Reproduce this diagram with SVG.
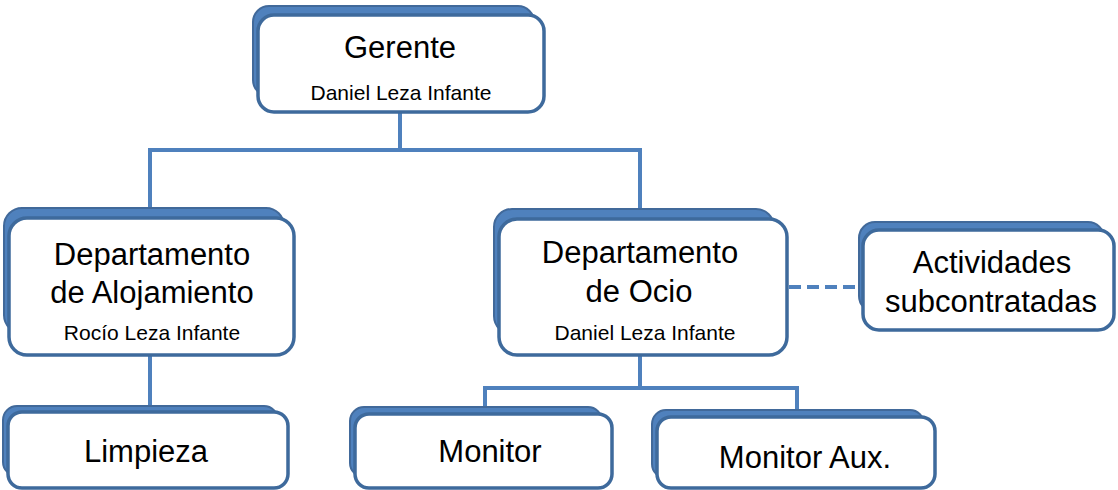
<svg xmlns="http://www.w3.org/2000/svg" width="1118" height="490" viewBox="0 0 1118 490">
<style>
.sh{fill:#4F81BD;stroke:#41699A;stroke-width:2}
.fr{fill:#FFFFFF;stroke:#3E6A9C;stroke-width:3.5}
.ln{fill:none;stroke:#4F81BD;stroke-width:4}
.dl{fill:none;stroke:#4F81BD;stroke-width:4;stroke-dasharray:12 6}
text{font-family:"Liberation Sans",Arial,sans-serif;fill:#000;text-anchor:middle}
.t{font-size:31px}
.s{font-size:21px}
</style>
<rect width="1118" height="490" fill="#FFFFFF"/>
<g id="connectors">
<path class="ln" d="M400,112 V150 M150,150 H640 M150,148 V210 M640,148 V211"/>
<path class="ln" d="M150,355 V408"/>
<path class="ln" d="M640,355 V388 M485,388 H797 M485,386 V409 M797,386 V412"/>
<path class="dl" d="M789,287 H861"/>
</g>
<g id="gerente">
<rect class="sh" x="253" y="6" width="281" height="90" rx="16"/>
<rect class="fr" x="258" y="15" width="286" height="97" rx="16"/>
<text class="t" x="400" y="58">Gerente</text>
<text class="s" x="401" y="100">Daniel Leza Infante</text>
</g>
<g id="dep-alojamiento">
<rect class="sh" x="4" y="208" width="280" height="125" rx="18"/>
<rect class="fr" x="9" y="218" width="285" height="137" rx="18"/>
<text class="t" x="152" y="265">Departamento</text>
<text class="t" x="152" y="303">de Alojamiento</text>
<text class="s" x="152" y="340">Rocío Leza Infante</text>
</g>
<g id="dep-ocio">
<rect class="sh" x="494" y="209" width="280" height="125" rx="18"/>
<rect class="fr" x="499" y="219" width="288" height="136" rx="18"/>
<text class="t" x="640" y="263">Departamento</text>
<text class="t" x="639" y="302">de Ocio</text>
<text class="s" x="645" y="340">Daniel Leza Infante</text>
</g>
<g id="actividades">
<rect class="sh" x="859" y="222" width="245" height="90" rx="16"/>
<rect class="fr" x="863" y="230" width="251" height="100" rx="16"/>
<text class="t" x="992" y="273">Actividades</text>
<text class="t" x="991" y="312">subcontratadas</text>
</g>
<g id="limpieza">
<rect class="sh" x="3" y="406" width="275" height="70" rx="14"/>
<rect class="fr" x="8" y="412" width="280" height="76" rx="14"/>
<text class="t" x="146" y="462">Limpieza</text>
</g>
<g id="monitor">
<rect class="sh" x="350" y="407" width="252" height="70" rx="14"/>
<rect class="fr" x="355" y="414" width="257" height="74" rx="14"/>
<text class="t" x="490" y="462">Monitor</text>
</g>
<g id="monitor-aux">
<rect class="sh" x="652" y="410" width="272" height="68" rx="14"/>
<rect class="fr" x="657" y="417" width="278" height="71" rx="14"/>
<text class="t" x="805" y="468">Monitor Aux.</text>
</g>
</svg>
